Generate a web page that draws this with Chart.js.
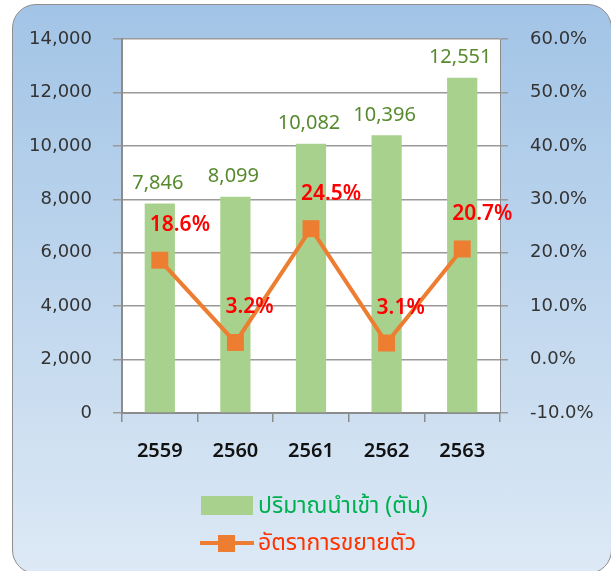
<!DOCTYPE html>
<html>
<head>
<meta charset="utf-8">
<script src="https://cdn.jsdelivr.net/npm/chart.js@4/dist/chart.umd.min.js"></script>
<style>
  html, body { margin: 0; padding: 0; width: 611px; height: 571px; overflow: hidden; background: #fff; }
  #frame {
    position: absolute; left: 12px; top: 4px; width: 600px; height: 570px;
    box-sizing: border-box; border: 1.5px solid #8e8e8e; border-radius: 24px;
    background: linear-gradient(#a2c4e6, #dde9f5);
  }
  #wrap { position: absolute; left: 0; top: 0; width: 611px; height: 571px; }
  .leg { position: absolute; left: 0; top: 0; font-family: Tahoma, "Noto Sans Thai", "Noto Sans", sans-serif; font-size: 23px; white-space: nowrap; }
  .sw { position: absolute; }
</style>
</head>
<body>
<div id="frame"></div>
<div id="wrap"><canvas id="chart" width="611" height="571"></canvas></div>
<div class="leg">
  <div class="sw" style="left:201px; top:496px; width:52px; height:19px; background:#a9d18e;"></div>
  <div style="position:absolute; left:258px; top:489px; color:#00b050;">ปริมาณนำเข้า (ตัน)</div>
  <div class="sw" style="left:200px; top:541px; width:54px; height:4px; background:#ed7d31;"></div>
  <div class="sw" style="left:218px; top:535px; width:17px; height:17px; background:#ed7d31;"></div>
  <div style="position:absolute; left:258px; top:526px; color:#ff3300;">อัตราการขยายตัว</div>
</div>
<script>
// ข้อมูล
const years = ['2559', '2560', '2561', '2562', '2563'];
const importTons = [7846, 8099, 10082, 10396, 12551];
const growthPct = [18.6, 3.2, 24.5, 3.1, 20.7];
const tonsRange = [0, 14000, 2000];
const pctRange = [-10, 60, 10];

const gridGray = '#9a9a9a';
const axisGray = '#8c8c8c';

// พื้นที่กราฟสีขาว
const whiteArea = {
  id: 'whiteArea',
  beforeDraw(chart) {
    const { ctx, chartArea: a } = chart;
    ctx.save();
    ctx.fillStyle = '#ffffff';
    ctx.fillRect(a.left, a.top, a.right - a.left, a.bottom - a.top);
    ctx.restore();
  }
};

// ป้ายค่าบนแท่งและจุด
const valueLabels = {
  id: 'valueLabels',
  afterDatasetsDraw(chart) {
    const ctx = chart.ctx;
    ctx.save();
    ctx.textBaseline = 'middle';

    ctx.font = '20px "Noto Sans"';
    ctx.fillStyle = '#578a2e';
    ctx.textAlign = 'center';
    chart.getDatasetMeta(1).data.forEach((bar, i) => {
      ctx.fillText(importTons[i].toLocaleString('en-US'), bar.x - 2, bar.y - 20);
    });

    ctx.font = '600 21px "Noto Sans"';
    ctx.fillStyle = '#ff0000';
    ctx.textAlign = 'left';
    chart.getDatasetMeta(0).data.forEach((pt, i) => {
      ctx.fillText(growthPct[i].toFixed(1) + '%', pt.x - 10, pt.y - 35);
    });
    ctx.restore();
  }
};

new Chart(document.getElementById('chart'), {
  data: {
    labels: years,
    datasets: [
      {
        type: 'line',
        label: 'อัตราการขยายตัว',
        data: growthPct,
        yAxisID: 'yPct',
        borderColor: '#ed7d31',
        borderWidth: 4,
        pointStyle: 'rect',
        pointRadius: 12,
        pointBackgroundColor: '#ed7d31',
        pointBorderWidth: 0,
        tension: 0,
        order: 0
      },
      {
        type: 'bar',
        label: 'ปริมาณนำเข้า (ตัน)',
        data: importTons,
        yAxisID: 'yTons',
        backgroundColor: '#a9d18e',
        barPercentage: 0.4,
        categoryPercentage: 1.0,
        order: 1
      }
    ]
  },
  options: {
    responsive: false,
    animation: false,
    events: [],
    layout: { padding: { top: 39, left: 0, right: 0, bottom: 0 } },
    plugins: { legend: { display: false }, tooltip: { enabled: false } },
    scales: {
      x: {
        afterFit: s => { s.height = 158; },
        grid: { offset: true, drawOnChartArea: false, tickLength: 9, color: axisGray, lineWidth: 1.5 },
        border: { color: axisGray, width: 2 },
        ticks: { padding: 17, color: '#111', font: { family: 'Noto Sans', size: 20, weight: '600' } }
      },
      yTons: {
        position: 'left',
        min: tonsRange[0], max: tonsRange[1],
        afterFit: s => { s.width = 122; },
        grid: { color: gridGray, lineWidth: 1.5, tickLength: 9 },
        border: { color: axisGray, width: 2 },
        ticks: {
          stepSize: tonsRange[2], padding: 21, color: '#333',
          font: { family: 'DejaVu Sans', size: 18 },
          callback: v => v.toLocaleString('en-US')
        }
      },
      yPct: {
        position: 'right',
        min: pctRange[0], max: pctRange[1],
        afterFit: s => { s.width = 111; },
        grid: { drawOnChartArea: false, color: gridGray, lineWidth: 1.5, tickLength: 8 },
        border: { color: axisGray, width: 1 },
        ticks: {
          stepSize: pctRange[2], padding: 22, color: '#333',
          font: { family: 'DejaVu Sans', size: 18 },
          callback: v => v.toFixed(1) + '%'
        }
      }
    }
  },
  plugins: [whiteArea, valueLabels]
});
</script>
</body>
</html>
